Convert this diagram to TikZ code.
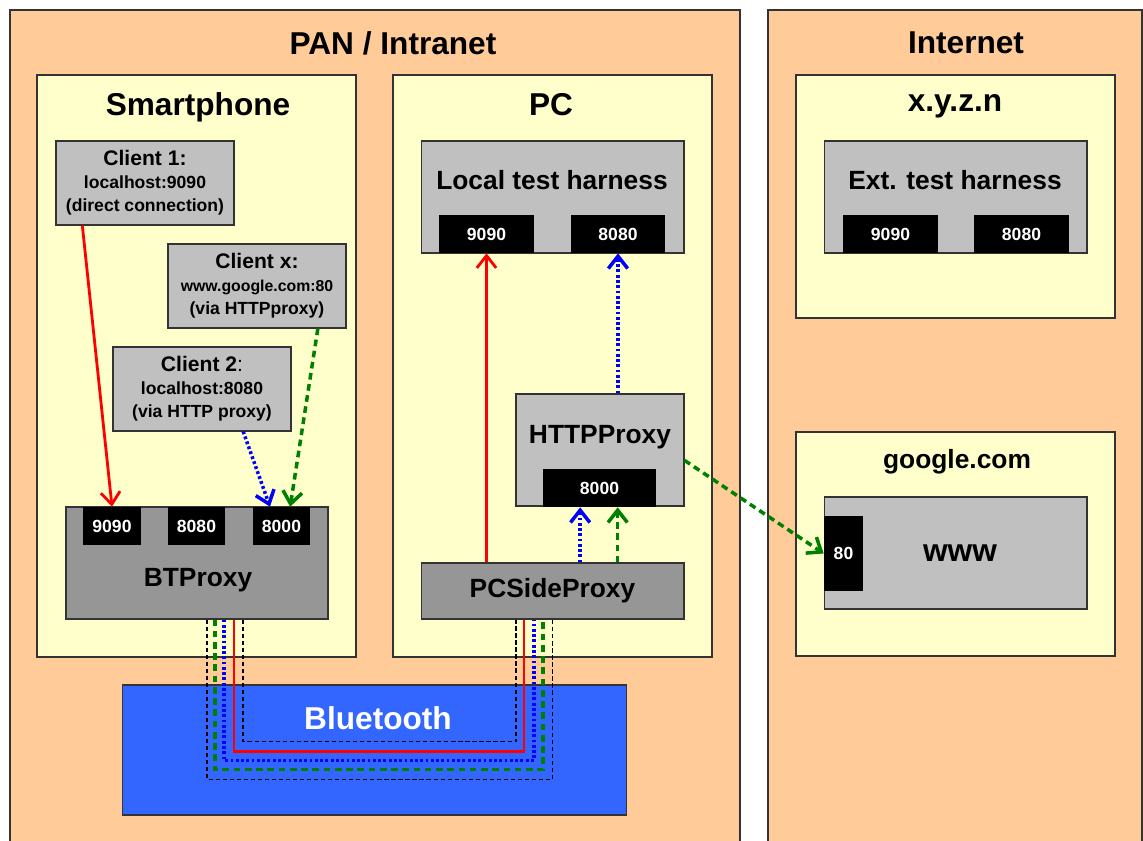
\documentclass[tikz,border=0pt]{standalone}
\usepackage{fontspec}
\setmainfont{Liberation Sans}
\usetikzlibrary{arrows.meta, calc}

\definecolor{zoneorange}{HTML}{FFCC99}
\definecolor{hostyellow}{HTML}{FFFFCC}
\definecolor{boxgray}{HTML}{C0C0C0}
\definecolor{proxygray}{HTML}{969696}
\definecolor{btblue}{HTML}{3366FF}
\definecolor{linkgreen}{HTML}{008000}

\tikzset{
  zone/.style={draw=black!80, line width=0.7pt, fill=zoneorange},
  host/.style={draw=black!80, line width=0.7pt, fill=hostyellow},
  bigtitle/.style={font=\fontsize{18}{22}\selectfont\bfseries},
  comptitle/.style={font=\fontsize{15}{18}\selectfont\bfseries},
  clientbox/.style={draw=black!80, line width=0.6pt, fill=boxgray, minimum width=3.56cm,
    minimum height=1.68cm, align=center, inner sep=0pt, font=\fontsize{10}{13}\selectfont\bfseries},
  compbox/.style={draw=black!80, line width=0.6pt, fill=boxgray, inner sep=0pt},
  portbox/.style={fill=black, text=white, inner sep=0pt, minimum height=0.76cm,
    font=\fontsize{10}{12}\selectfont\bfseries},
  barb/.style={-{Straight Barb[length=7pt,width=11pt]}},
  redlink/.style={draw=red, line width=1.6pt},
  bluelink/.style={draw=blue, line width=2pt, dash pattern=on 1.6pt off 1.4pt},
  greenlink/.style={draw=linkgreen, line width=2pt, dash pattern=on 3.8pt off 2.6pt},
  tunnel/.style={draw=black, line width=1pt, dash pattern=on 2.4pt off 1.6pt},
}

\begin{document}
\begin{tikzpicture}[x=0.02cm, y=-0.02cm]
    \useasboundingbox (0,0) rectangle (1143,841);

    % Zones
    \draw[zone] (10,845) |- (740,10) -- (740,845);
    \node[bigtitle] (pantitle) at (393,43) {PAN / Intranet};
    \draw[zone] (768,845) |- (1142,10) -- (1142,845);
    \node[bigtitle] (nettitle) at (966,43) {Internet};

    % Hosts
    \draw[host] (37,75) rectangle (356,657);
    \node[bigtitle] (phonetitle) at (198,107) {Smartphone};
    \draw[host] (393,75) rectangle (712,657);
    \node[bigtitle] (pctitle) at (551,105) {PC};
    \draw[host] (796,75) rectangle (1115,318);
    \node[bigtitle] (xyzntitle) at (955,106) {x.y.z.n};
    \draw[host] (796,432) rectangle (1115,656);
    \node[comptitle] (googletitle) at (957,462) {google.com};

    % Bluetooth
    \node[draw=black!80, line width=0.6pt, fill=btblue, minimum width=10.1cm, minimum height=2.6cm]
        (bt) at (374.5,750) {};
    \node[bigtitle, text=white] (bttitle) at (378,718) {Bluetooth};

    % Smartphone clients
    \node[clientbox] (client1) at (145,183)
        {{\fontsize{12}{14}\selectfont Client 1:}\\localhost:9090\\(direct connection)};
    \node[clientbox] (clientx) at (257,286)
        {{\fontsize{12}{14}\selectfont Client x:}\\{\fontsize{9}{13}\selectfont www.google.com:80}\\(via HTTPproxy)};
    \node[clientbox] (client2) at (202,389)
        {{\fontsize{12}{14}\selectfont Client 2\textmd{:}}\\localhost:8080\\(via HTTP proxy)};

    % BTProxy
    \node[compbox, fill=proxygray, minimum width=5.24cm, minimum height=2.24cm] (btproxy) at (197,563) {};
    \node[comptitle] (btptitle) at (198,580) {BTProxy};
    \node[portbox, minimum width=1.16cm] (p9090) at (112,526) {9090};
    \node[portbox, minimum width=1.14cm] (p8080) at (196.5,526) {8080};
    \node[portbox, minimum width=1.14cm] (p8000) at (281.5,526) {8000};

    % Local test harness
    \node[compbox, minimum width=5.26cm, minimum height=2.24cm] (lth) at (552.5,197) {};
    \node[comptitle] (lthtitle) at (552,180) {Local test harness};
    \node[portbox, minimum width=1.9cm] (lth9090) at (486.5,234) {9090};
    \node[portbox, minimum width=1.88cm] (lth8080) at (618,234) {8080};

    % HTTPProxy
    \node[compbox, minimum width=3.36cm, minimum height=2.24cm] (httpproxy) at (600,450) {};
    \node[comptitle] (hptitle) at (600,437) {HTTPProxy};
    \node[portbox, minimum width=2.26cm] (hp8000) at (599.5,488) {8000};

    % PCSideProxy
    \node[compbox, fill=proxygray, minimum width=5.26cm, minimum height=1.12cm, comptitle]
        (pcside) at (552.5,591) {PCSideProxy};

    % Ext. test harness
    \node[compbox, minimum width=5.26cm, minimum height=2.24cm] (eth) at (955.5,197) {};
    \node[comptitle] (ethtitle) at (955,180) {Ext. test harness};
    \node[portbox, minimum width=1.9cm] (eth9090) at (890.5,234) {9090};
    \node[portbox, minimum width=1.9cm] (eth8080) at (1021.5,234) {8080};

    % www
    \node[compbox, minimum width=5.26cm, minimum height=2.24cm] (www) at (955.5,553) {};
    \node[bigtitle] (wwwtitle) at (960,553) {www};
    \node[portbox, minimum width=0.78cm, minimum height=1.5cm] (p80) at (843.5,553.5) {80};

    % Connections on the smartphone
    \draw[redlink, barb] ($(client1.south west)!0.15!(client1.south east)$) -- (p9090.north);
    \draw[greenlink, barb] ($(clientx.south west)!0.84!(clientx.south east)$)
        -- ($(p8000.north west)!0.65!(p8000.north east)$);
    \draw[bluelink, barb] ($(client2.south west)!0.73!(client2.south east)$)
        -- ($(p8000.north west)!0.3!(p8000.north east)$);

    % Connections on the PC
    \draw[redlink, barb] (pcside.north -| lth9090.south) -- (lth9090.south);
    \coordinate (hpblue) at ($(hp8000.south west)!0.33!(hp8000.south east)$);
    \coordinate (hpgreen) at ($(hp8000.south west)!0.66!(hp8000.south east)$);
    \draw[bluelink, barb] (pcside.north -| hpblue) -- (hpblue);
    \draw[greenlink, barb] (pcside.north -| hpgreen) -- (hpgreen);
    \draw[bluelink, barb] (httpproxy.north -| lth8080.south) -- (lth8080.south);
    \draw[greenlink, barb] (httpproxy.-7) -- (p80.west);

    % Bluetooth tunnel
    \foreach \st/\l/\r/\b in {tunnel/10/0/160, greenlink/18/-9.5/150, bluelink/27/-18.5/141,
                              redlink/37/-28.5/132, tunnel/46/-36.5/122}
        \draw[\st] ($(btproxy.south)+(\l,0)$) |- ($(pcside.south)+(\r,\b)$) -- ($(pcside.south)+(\r,0)$);
\end{tikzpicture}
\end{document}
